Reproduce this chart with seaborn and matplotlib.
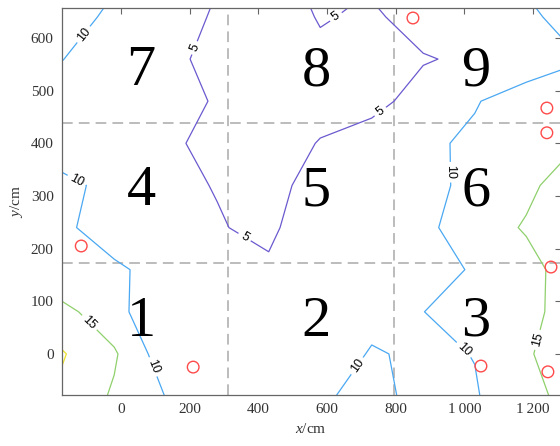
import numpy as np
import matplotlib
matplotlib.use("Agg")
import matplotlib.pyplot as plt
import seaborn as sns

# measurement grid (cm)
x_nodes = [-172, -20, 130, 280, 430, 580, 730, 880, 1030, 1180, 1280]
y_nodes = [-80, 0, 80, 160, 240, 320, 400, 480, 560, 640, 660]

# field values, one list per grid row (bottom to top)
z_y_m80 = [19.0, 14.375, 9.9, 8.0, 8.5, 9.56, 11.0, 8.95, 9.61, 13.5, 15.77]
z_y_0 = [20.4, 15.625, 7.1, 6.5, 7.0, 6.33, 10.5, 9.0, 10.13, 14.0, 18.55]
z_y_80 = [16.5, 11.78, 5.57, 6.5, 7.0, 7.0, 8.15, 9.95, 12.0, 12.5, 17.13]
z_y_160 = [10.5, 10.8, 8.2, 6.5, 5.37, 6.8, 7.5, 7.9, 10.5, 12.0, 17.26]
z_y_240 = [10.93, 7.6, 7.0, 5.147, 4.5, 6.77, 7.5, 9.7, 10.7, 15.8, 17.5]
z_y_320 = [10.7, 9.2, 5.49, 4.907, 4.0, 6.21, 7.0, 8.8, 11.05, 13.13, 17.76]
z_y_400 = [8.46, 8.5, 5.97, 3.5, 3.0, 5.214, 6.17, 8.93, 10.99, 12.5, 12.5]
z_y_480 = [8.0, 8.0, 8.19, 4.3, 3.2, 3.5, 4.22, 6.02, 9.6, 12.93, 12.25]
z_y_560 = [10.105, 7.48, 6.35, 3.5, 3.2, 4.43, 3.8, 4.82, 5.45, 6.42, 9.2]
z_y_640 = [11.06, 9.5, 9.0, 4.0, 3.5, 5.19, 4.58, 6.12, 7.5, 9.36, 10.69]
z_y_660 = [12.3, 9.5, 7.93, 4.6, 3.8, 5.3, 4.78, 6.98, 7.8, 9.6, 11.2]

levels = [5, 10, 15, 20]
level_colors = ["#6a5acf", "#4aa8f2", "#8fd06c", "#ece22a"]

# sensor positions (cm)
sensor_x = [850, 1240, 1240, -116, 210, 1048, 1252, 1243]
sensor_y = [638, 467, 420, 205, -25, -23, 165, -34]

# zone numbering
zone_labels = ["1", "2", "3", "4", "5", "6", "7", "8", "9"]
zone_x = [58, 568, 1033, 58, 568, 1033, 58, 568, 1033]
zone_y = [61, 61, 61, 309, 309, 309, 537, 537, 537]

# zone borders
x_dividers = [311, 795]
y_dividers = [172, 439]

x_ticks = [0, 200, 400, 600, 800, 1000, 1200]
x_tick_labels = ["0", "200", "400", "600", "800", "1\u2009000", "1\u2009200"]
y_ticks = [0, 100, 200, 300, 400, 500, 600]

# contour label anchor points
label_points = [(-96, 600), (215, 581), (626, 640), (754, 461), (-134, 324),
                (358, 220), (-105, 51), (84, -27), (684, -21), (949, 345),
                (993, 4), (1211, 27)]

sns.set_theme(style="white")
plt.rcParams["font.family"] = ["Liberation Serif", "DejaVu Serif"]
plt.rcParams["mathtext.fontset"] = "custom"
plt.rcParams["mathtext.it"] = "Liberation Serif:italic"
plt.rcParams["mathtext.rm"] = "Liberation Serif"

fig = plt.figure(figsize=(5.6, 4.46), dpi=100)
ax = fig.add_axes([62 / 560, 51 / 446, 498.6 / 560, 387 / 446])

Z = np.array([z_y_m80, z_y_0, z_y_80, z_y_160, z_y_240, z_y_320,
              z_y_400, z_y_480, z_y_560, z_y_640, z_y_660])
X, Y = np.meshgrid(x_nodes, y_nodes)
cs = ax.contour(X, Y, Z, levels=levels, colors=level_colors, linewidths=0.9)
ax.clabel(cs, levels=[5, 10, 15], fmt="%d", fontsize=9, inline=True,
          inline_spacing=4, manual=label_points, colors="black")
for t in cs.labelTexts:
    t.set_fontfamily(["Liberation Sans", "DejaVu Sans"])

for xv in x_dividers:
    ax.axvline(xv, color="#aaaaaa", lw=1.1, ls=(0, (7, 4)), zorder=1)
for yv in y_dividers:
    ax.axhline(yv, color="#aaaaaa", lw=1.1, ls=(0, (7, 4)), zorder=1)

sns.scatterplot(x=sensor_x, y=sensor_y, ax=ax, marker="o", s=70,
                facecolor="none", edgecolor="#ff4a4a", linewidth=1.0, zorder=5)

for lab, zx, zy in zip(zone_labels, zone_x, zone_y):
    ax.text(zx, zy, lab, fontsize=42, ha="center", va="center", color="black",
            family=["Liberation Serif"])

ax.set_xlim(-172, 1280)
ax.set_ylim(-78, 657)
ax.set_xticks(x_ticks)
ax.set_xticklabels(x_tick_labels)
ax.set_yticks(y_ticks)
ax.tick_params(direction="in", length=4, width=0.8, color="#666666",
               labelsize=11, labelcolor="#333333", top=True, right=True,
               pad=6)
for sp in ax.spines.values():
    sp.set_color("#666666")
    sp.set_linewidth(0.9)

ax.set_xlabel(r"$x$/cm", fontsize=11, color="#333333", labelpad=4)
ax.set_ylabel(r"$y$/cm", fontsize=11, color="#333333", labelpad=4)

fig.savefig("out.png", dpi=100)
